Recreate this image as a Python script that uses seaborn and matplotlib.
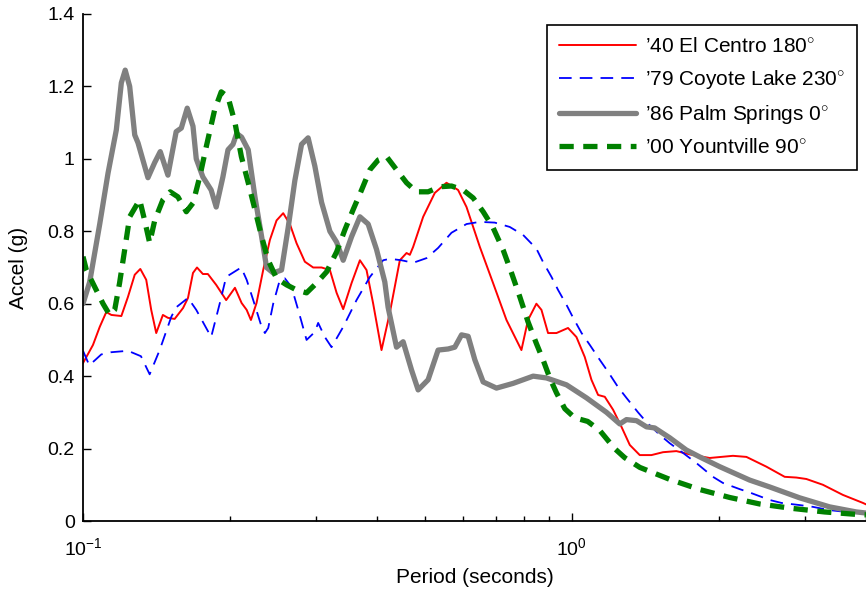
import numpy as np
import pandas as pd
import matplotlib
matplotlib.use("Agg")
import matplotlib.pyplot as plt
import matplotlib.ticker as mticker
import seaborn as sns

# ---------------- data (period in s, spectral accel in g) ----------------
elcentro_T = [0.1, 0.1048, 0.1082, 0.1116, 0.1143, 0.1198, 0.1236, 0.1276, 0.1310, 0.1347,
              0.1379, 0.1412, 0.1457, 0.1492, 0.1540, 0.1602, 0.1640, 0.1679, 0.1711, 0.1759,
              0.1801, 0.1873, 0.1963, 0.2046, 0.2111, 0.2162, 0.2206, 0.2265, 0.2337, 0.2412,
              0.2489, 0.2568, 0.2650, 0.2735, 0.2844, 0.2958, 0.3077, 0.3200, 0.3303, 0.3407,
              0.3544, 0.3686, 0.3803, 0.3924, 0.4081, 0.4244, 0.4449, 0.4592, 0.4664, 0.4737,
              0.4966, 0.5246, 0.5543, 0.5854, 0.6091, 0.6485, 0.6903, 0.7353, 0.7889, 0.8138,
              0.8466, 0.8670, 0.8944, 0.9305, 0.9826, 1.0223, 1.0631, 1.0972, 1.1322, 1.1684,
              1.2153, 1.2640, 1.3145, 1.3777, 1.4555, 1.5372, 1.6372, 1.743, 1.915, 2.137,
              2.277, 2.502, 2.727, 2.881, 3.020, 3.265, 3.588, 3.941, 4.0]
elcentro_A = [0.436, 0.486, 0.536, 0.577, 0.569, 0.566, 0.619, 0.68, 0.696, 0.666,
              0.583, 0.519, 0.569, 0.561, 0.558, 0.588, 0.616, 0.685, 0.70, 0.682,
              0.682, 0.652, 0.61, 0.644, 0.602, 0.583, 0.555, 0.602, 0.693, 0.776,
              0.83, 0.85, 0.82, 0.767, 0.716, 0.70, 0.70, 0.693, 0.63, 0.585,
              0.657, 0.72, 0.693, 0.60, 0.472, 0.575, 0.72, 0.74, 0.735, 0.757,
              0.84, 0.906, 0.934, 0.914, 0.867, 0.757, 0.657, 0.555, 0.472, 0.555,
              0.60, 0.583, 0.519, 0.519, 0.533, 0.508, 0.453, 0.39, 0.348, 0.343,
              0.307, 0.26, 0.21, 0.182, 0.182, 0.19, 0.193, 0.184, 0.174, 0.18,
              0.177, 0.15, 0.122, 0.12, 0.116, 0.10, 0.072, 0.05, 0.046]

coyote_T = [0.1, 0.1030, 0.1060, 0.1090, 0.1141, 0.1236, 0.1314, 0.1369, 0.1435, 0.1516,
            0.1551, 0.1640, 0.1705, 0.1829, 0.1904, 0.1963, 0.2107, 0.2162, 0.2230, 0.2320,
            0.2356, 0.2393, 0.2450, 0.2528, 0.2588, 0.2671, 0.2756, 0.2867, 0.2981, 0.3028,
            0.3125, 0.3225, 0.3407, 0.3628, 0.3864, 0.4113, 0.4244, 0.4484, 0.4737, 0.5047,
            0.5328, 0.5675, 0.6091, 0.6485, 0.6958, 0.7467, 0.7951, 0.8466, 0.8736, 0.9090,
            0.9376, 0.9754, 1.0067, 1.0474, 1.0891, 1.1412, 1.1866, 1.2434, 1.294, 1.3666,
            1.422, 1.5136, 1.586, 1.6889, 1.799, 1.945, 2.039, 2.206, 2.331, 2.541,
            2.684, 2.926, 3.116, 3.370, 3.645, 4.0]
coyote_A = [0.47, 0.43, 0.445, 0.46, 0.466, 0.47, 0.455, 0.405, 0.472, 0.564,
            0.59, 0.616, 0.583, 0.508, 0.60, 0.674, 0.70, 0.666, 0.61, 0.536,
            0.519, 0.533, 0.60, 0.666, 0.67, 0.646, 0.583, 0.50, 0.522, 0.547,
            0.508, 0.48, 0.536, 0.61, 0.674, 0.72, 0.724, 0.72, 0.713, 0.726,
            0.754, 0.796, 0.82, 0.826, 0.824, 0.812, 0.79, 0.752, 0.715, 0.674,
            0.638, 0.597, 0.561, 0.519, 0.486, 0.445, 0.412, 0.37, 0.34, 0.30,
            0.273, 0.238, 0.215, 0.188, 0.16, 0.122, 0.105, 0.088, 0.077, 0.058,
            0.05, 0.044, 0.039, 0.03, 0.025, 0.024]

palm_T = [0.1, 0.1032, 0.1082, 0.1125, 0.1170, 0.1198, 0.1220, 0.1246, 0.1276, 0.1296,
          0.1358, 0.1402, 0.1439, 0.1492, 0.1551, 0.1589, 0.1634, 0.1679, 0.1705, 0.1759,
          0.1829, 0.1873, 0.1933, 0.1980, 0.2027, 0.2063, 0.2111, 0.2178, 0.2248, 0.2320,
          0.2375, 0.2450, 0.2548, 0.2629, 0.2713, 0.2800, 0.2888, 0.2981, 0.3077, 0.3200,
          0.3303, 0.3407, 0.3544, 0.3686, 0.3832, 0.3986, 0.4145, 0.4210, 0.4380, 0.4519,
          0.4701, 0.4850, 0.5083, 0.5328, 0.5585, 0.5764, 0.5950, 0.6138, 0.6335, 0.6588,
          0.7015, 0.7586, 0.8337, 0.8878, 0.9754, 1.072, 1.178, 1.254, 1.294, 1.357,
          1.422, 1.478, 1.586, 1.716, 1.827, 2.008, 2.312, 2.541, 2.926, 3.370,
          3.822, 4.0]
palm_A = [0.60, 0.66, 0.82, 0.96, 1.08, 1.21, 1.245, 1.20, 1.066, 1.044,
          0.948, 0.99, 1.02, 0.955, 1.075, 1.085, 1.14, 1.09, 1.0, 0.95,
          0.914, 0.867, 0.95, 1.025, 1.04, 1.07, 1.06, 1.025, 0.895, 0.785,
          0.70, 0.685, 0.693, 0.81, 0.94, 1.04, 1.058, 0.98, 0.88, 0.80,
          0.77, 0.72, 0.785, 0.84, 0.82, 0.75, 0.66, 0.59, 0.48, 0.495,
          0.417, 0.362, 0.39, 0.472, 0.475, 0.48, 0.514, 0.51, 0.445, 0.384,
          0.367, 0.38, 0.40, 0.395, 0.376, 0.34, 0.30, 0.268, 0.28, 0.277,
          0.26, 0.257, 0.23, 0.196, 0.177, 0.15, 0.113, 0.094, 0.064, 0.039,
          0.025, 0.022]

yount_T = [0.1, 0.1016, 0.1057, 0.1099, 0.1134, 0.1161, 0.1188, 0.1217, 0.1246, 0.1306,
           0.1337, 0.1369, 0.1402, 0.1457, 0.1508, 0.1564, 0.1627, 0.1679, 0.1733, 0.1787,
           0.1859, 0.1918, 0.1980, 0.2046, 0.2109, 0.2178, 0.2248, 0.2320, 0.2393, 0.2489,
           0.2610, 0.2735, 0.2867, 0.3005, 0.3151, 0.3303, 0.3434, 0.3571, 0.3715, 0.3864,
           0.4018, 0.4180, 0.4380, 0.4592, 0.4813, 0.5083, 0.5372, 0.5675, 0.5995, 0.6285,
           0.6588, 0.6903, 0.7236, 0.7530, 0.7830, 0.8138, 0.8466, 0.8736, 0.9016, 0.9305,
           0.968, 1.014, 1.078, 1.141, 1.224, 1.283, 1.378, 1.586, 1.827, 2.104,
           2.424, 2.818, 3.291, 3.845, 4.0]
yount_A = [0.73, 0.693, 0.646, 0.60, 0.569, 0.583, 0.657, 0.749, 0.84, 0.887,
           0.83, 0.768, 0.83, 0.887, 0.909, 0.895, 0.854, 0.878, 0.95, 1.033,
           1.135, 1.185, 1.171, 1.10, 1.006, 0.934, 0.86, 0.785, 0.72, 0.67,
           0.652, 0.638, 0.63, 0.657, 0.688, 0.743, 0.804, 0.86, 0.914, 0.97,
           0.997, 1.006, 0.97, 0.934, 0.909, 0.909, 0.923, 0.925, 0.914, 0.892,
           0.854, 0.81, 0.749, 0.685, 0.619, 0.55, 0.49, 0.445, 0.395, 0.354,
           0.31, 0.285, 0.275, 0.25, 0.20, 0.175, 0.148, 0.115, 0.087, 0.065,
           0.047, 0.035, 0.025, 0.018, 0.017]

labels = ["\u201940 El Centro 180$^{\\circ}$",
          "\u201979 Coyote Lake 230$^{\\circ}$",
          "\u201986 Palm Springs 0$^{\\circ}$",
          "\u201900 Yountville 90$^{\\circ}$"]

y_ticks = [0, 0.2, 0.4, 0.6, 0.8, 1.0, 1.2, 1.4]
y_tick_labels = ["0", "0.2", "0.4", "0.6", "0.8", "1", "1.2", "1.4"]
x_ticks = [0.1, 1.0]
x_tick_labels = ["$10^{-1}$", "$10^{0}$"]

# ---------------- style ----------------
sns.set_style("ticks")
plt.rcParams["font.family"] = ["Liberation Sans", "DejaVu Sans"]
plt.rcParams["mathtext.fontset"] = "custom"
plt.rcParams["mathtext.rm"] = "Liberation Sans"
plt.rcParams["mathtext.it"] = "Liberation Sans:italic"
plt.rcParams["mathtext.bf"] = "Liberation Sans:bold"
plt.rcParams["text.color"] = "black"
plt.rcParams["axes.labelcolor"] = "black"
plt.rcParams["xtick.color"] = "black"
plt.rcParams["ytick.color"] = "black"
plt.rcParams["xtick.direction"] = "in"
plt.rcParams["ytick.direction"] = "in"

series = [
    (elcentro_T, elcentro_A, labels[0], "#ff0000", 1.4, "-"),
    (coyote_T, coyote_A, labels[1], "#0000ff", 1.3, (0, (7, 4.5))),
    (palm_T, palm_A, labels[2], "#808080", 3.8, "-"),
    (yount_T, yount_A, labels[3], "#008000", 3.8, (0, (2.7, 1.8))),
]

fig = plt.figure(figsize=(8.66, 5.94), dpi=100)
ax = fig.add_axes([83 / 866, 73 / 594, 783 / 866, 507 / 594])

for T, A, lab, col, lw, ls in series:
    assert len(T) == len(A), lab
    df = pd.DataFrame({"Period": T, "Accel": A})
    sns.lineplot(data=df, x="Period", y="Accel", ax=ax, color=col, linewidth=lw,
                 linestyle=ls, label=lab, estimator=None, sort=False,
                 solid_joinstyle="round", dash_joinstyle="round")

ax.set_xscale("log")
ax.set_xlim(0.1, 4.0)
ax.set_ylim(0, 1.4)

ax.set_yticks(y_ticks)
ax.set_yticklabels(y_tick_labels)
ax.xaxis.set_major_locator(mticker.FixedLocator(x_ticks))
ax.xaxis.set_major_formatter(mticker.FixedFormatter(x_tick_labels))
ax.xaxis.set_minor_locator(mticker.LogLocator(base=10, subs=np.arange(2, 10)))
ax.xaxis.set_minor_formatter(mticker.NullFormatter())

ax.tick_params(axis="both", which="both", bottom=True, left=True, top=False, right=False,
               direction="in", colors="black")
ax.tick_params(axis="both", which="major", length=6, width=1.0, labelsize=14)
ax.tick_params(axis="x", which="minor", length=3.5, width=1.0)
ax.tick_params(axis="x", which="major", pad=12)
ax.tick_params(axis="y", which="major", pad=6)

for s in ["top", "right"]:
    ax.spines[s].set_visible(False)
for s in ["left", "bottom"]:
    ax.spines[s].set_color("black")
    ax.spines[s].set_linewidth(1.3)

ax.set_xlabel("Period (seconds)", fontsize=15, labelpad=6, color="black")
ax.set_ylabel("Accel (g)", fontsize=15, labelpad=14, color="black")

leg = ax.legend(loc="upper right", bbox_to_anchor=(0.989, 0.979), fontsize=15,
                frameon=True, fancybox=False, edgecolor="black", framealpha=1,
                handlelength=3.7, handletextpad=0.4, labelspacing=0.58,
                borderpad=0.6, borderaxespad=0)
leg.get_frame().set_linewidth(1.2)
for t in leg.get_texts():
    t.set_color("black")

fig.savefig("out.png", dpi=100)
